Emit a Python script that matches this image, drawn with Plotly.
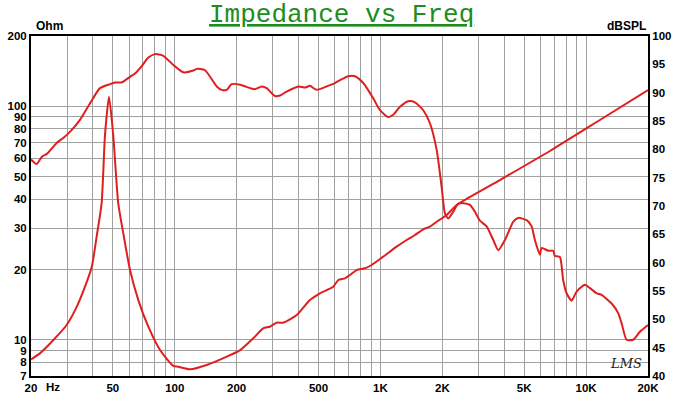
import plotly.graph_objects as go

# ---------------- data ----------------
spl_freq = [20, 21.3, 22.6, 23.9, 25.6, 26.8, 28.7, 31.5, 34.6, 38.7, 43.3, 48.4, 51.2, 55.2,
            60.6, 64.1, 69.1, 74.4, 80.2, 88.0, 98.4, 110, 123, 128, 140, 160, 169, 179, 189,
            208, 232, 245, 265, 280, 307, 325, 350, 399, 430, 454, 490, 548, 601, 636, 698,
            752, 825, 923, 995, 1092, 1154, 1245, 1366, 1472, 1615, 1741, 1877, 1984, 2059,
            2137, 2259, 2389, 2527, 2724, 2881, 3047, 3284, 3537, 3740, 4031, 4423, 4677,
            5138, 5434, 5638, 5963, 6077, 6543, 6919, 7052, 7458, 7740, 8040, 8504, 8993,
            9868, 10437, 11252, 11899, 13308, 14326, 14882, 15740, 16947, 18262, 20000]
spl_db = [78.2, 77.4, 78.7, 79.2, 80.4, 81.2, 82.0, 83.4, 85.2, 88.1, 90.8, 91.5, 91.8, 91.8,
          92.8, 93.4, 94.7, 96.2, 96.8, 96.5, 94.9, 93.6, 93.9, 94.2, 94.0, 91.1, 90.5, 90.5, 91.5,
          91.4, 90.8, 90.6, 91.1, 90.8, 89.4, 89.5, 90.2, 91.1, 90.9, 91.2, 90.5, 91.1, 91.7, 92.2, 92.9,
          92.9, 91.7, 89.0, 86.9, 85.7, 86.1, 87.5, 88.5, 88.3, 86.9, 84.6, 79.9, 73.4, 68.7,
          67.8, 69.0, 70.4, 70.5, 70.2, 69.0, 67.4, 66.4, 64.0, 62.2, 64.0, 67.2, 67.9,
          67.5, 66.4, 64.0, 61.4, 62.6, 62.1, 62.1, 61.2, 61.0, 56.9, 54.6, 53.3, 54.9,
          56.1, 55.5, 54.6, 54.3, 52.8, 51.1, 49.3, 46.4, 46.4, 47.8, 49.0]

imp_freq = [20, 22.1, 25.7, 29.8, 33.4, 36.6, 39.5, 41.7, 44.1, 45.8, 47.9, 50.2, 53.1, 56.2,
            60.6, 66.5, 74.4, 84.8, 98.4, 104, 119, 143, 179, 208, 241, 269, 290, 313, 337,
            392, 454, 508, 590, 624, 672, 711, 766, 841, 906, 1032, 1199, 1341, 1472, 1615,
            1741, 1877, 2099, 2347, 3811, 6669, 11674, 20000]
imp_ohm = [8.25, 8.75, 9.98, 11.57, 13.87, 16.89, 20.57, 27.64, 38.5, 75.4, 109.9, 75.4, 38.5, 28.6,
           19.9, 14.8, 11.38, 9.04, 7.73, 7.67, 7.48, 7.80, 8.47, 9.04, 10.15, 11.20, 11.38, 11.84, 11.84,
           12.77, 14.8, 15.82, 16.89, 18.04, 18.34, 18.95, 19.9, 20.24, 20.91, 22.70, 25.05, 26.76, 28.11, 29.73,
           30.51, 32.05, 34.24, 37.80, 48.34, 64.36, 87.37, 117.4]

x_grid = [20, 30, 40, 50, 60, 70, 80, 90, 100, 200, 300, 400, 500, 600, 700, 800, 900,
          1000, 2000, 3000, 4000, 5000, 6000, 7000, 8000, 9000, 10000, 20000]
x_labels = {20: "20", 50: "50", 100: "100", 200: "200", 500: "500", 1000: "1K",
            2000: "2K", 5000: "5K", 10000: "10K", 20000: "20K"}
ohm_ticks = [7, 8, 9, 10, 20, 30, 40, 50, 60, 70, 80, 90, 100, 200]
db_ticks = [40, 45, 50, 55, 60, 65, 70, 75, 80, 85, 90, 95, 100]

# ---------------- figure ----------------
RED = "#e01e1e"
fig = go.Figure()
fig.add_trace(go.Scatter(x=spl_freq, y=spl_db, yaxis="y2", mode="lines",
                         line=dict(color=RED, width=2, shape="spline", smoothing=0.6),
                         hoverinfo="skip"))
fig.add_trace(go.Scatter(x=imp_freq, y=imp_ohm, mode="lines",
                         line=dict(color=RED, width=2, shape="spline", smoothing=0.6),
                         hoverinfo="skip"))

tickfont = dict(family="Liberation Sans", size=11.5, color="black", weight="bold")
fig.update_layout(
    width=682, height=396,
    margin=dict(l=31, r=34, t=36, b=20),
    paper_bgcolor="white", plot_bgcolor="white",
    showlegend=False,
    xaxis=dict(type="log", range=[1.30103, 4.30103], automargin=False,
               tickvals=x_grid, ticktext=[x_labels.get(v, "") for v in x_grid],
               showgrid=True, gridcolor="#a0a0a0", gridwidth=1,
               showline=True, linecolor="black", linewidth=1.5, mirror=True,
               ticks="", tickfont=tickfont, zeroline=False),
    yaxis=dict(type="log", range=[0.845098, 2.30103], automargin=False,
               tickvals=ohm_ticks, ticktext=[str(v) for v in ohm_ticks],
               showgrid=True, gridcolor="#a0a0a0", gridwidth=1,
               showline=True, linecolor="black", linewidth=2,
               ticks="", tickfont=tickfont, zeroline=False),
    yaxis2=dict(overlaying="y", side="right", range=[40, 100], automargin=False,
                tickvals=db_ticks, showgrid=False,
                showline=True, linecolor="black", linewidth=2,
                ticks="", tickfont=tickfont, zeroline=False),
)

fig.add_annotation(text="<u>Impedance vs Freq</u>", xref="paper", yref="paper",
                   x=0.5025, y=1.062, xanchor="center", yanchor="middle", showarrow=False,
                   font=dict(family="Liberation Mono", size=26, color="#1e8c1e"))
fig.add_annotation(text="Ohm", xref="paper", yref="paper", x=0.005, y=1.029,
                   xanchor="left", yanchor="middle", showarrow=False,
                   font=dict(family="Liberation Sans", size=12, color="black", weight="bold"))
fig.add_annotation(text="dBSPL", xref="paper", yref="paper", x=1.0, y=1.029,
                   xanchor="right", yanchor="middle", showarrow=False,
                   font=dict(family="Liberation Sans", size=12, color="black", weight="bold"))
fig.add_annotation(text="Hz", xref="paper", yref="paper", x=0.0357, y=-0.032,
                   xanchor="center", yanchor="middle", showarrow=False,
                   font=dict(family="Liberation Sans", size=11.5, color="black", weight="bold"))
fig.add_annotation(text="LMS", xref="paper", yref="paper", x=0.9643, y=0.038,
                   xanchor="center", yanchor="middle", showarrow=False,
                   font=dict(family="DejaVu Serif", size=13, color="#222222", style="italic"))

fig.write_html("out.html")
